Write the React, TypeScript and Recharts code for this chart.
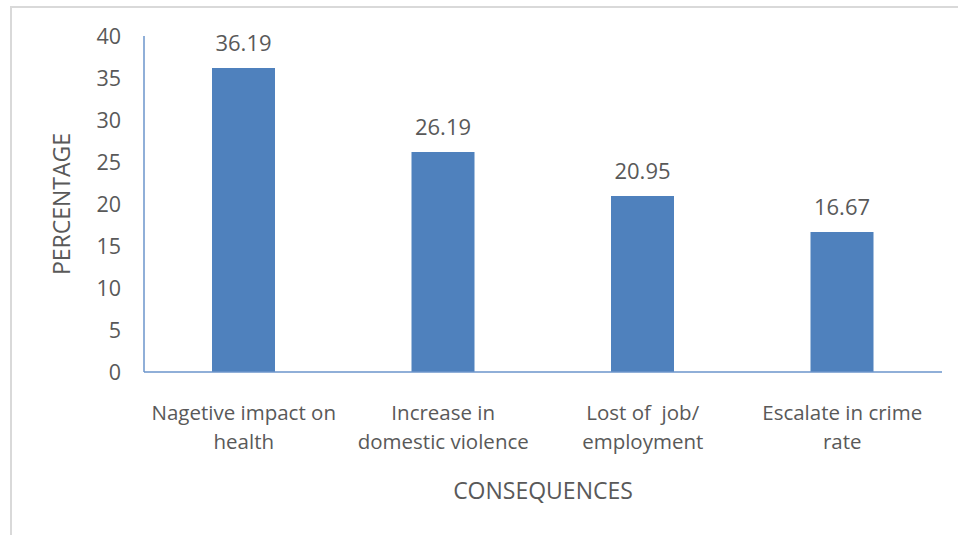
import { BarChart, Bar, XAxis, YAxis, LabelList, Label } from "recharts";

const categories = [
  "Nagetive impact on\nhealth",
  "Increase in\ndomestic violence",
  "Lost of  job/\nemployment",
  "Escalate in crime\nrate",
];
const percentages = [36.19, 26.19, 20.95, 16.67];
const yTicks = [0, 5, 10, 15, 20, 25, 30, 35, 40];

const data = categories.map((name, i) => ({ name, value: percentages[i] }));

const FONT = "'Open Sans', sans-serif";
const TEXT = "#595959";
const BAR = "#4f81bd";
const AXIS = "#6b94cb";

function CategoryTick({ x, y, payload }: any) {
  const lines = String(payload.value).split("\n");
  return (
    <text
      x={x}
      y={y + 40}
      textAnchor="middle"
      fill={TEXT}
      fontSize={20.5}
      fontFamily={FONT}
      style={{ whiteSpace: "pre" }}
    >
      {lines.map((line, i) => (
        <tspan key={i} x={x} dy={i === 0 ? 0 : 29}>
          {line}
        </tspan>
      ))}
    </text>
  );
}

export default function App() {
  return (
    <div
      style={{
        position: "fixed",
        left: 0,
        top: 0,
        width: 958,
        height: 535,
        overflow: "hidden",
        background: "#fff",
      }}
    >
      {/* light frame around the chart area */}
      <div
        style={{
          position: "absolute",
          left: 10,
          top: 6,
          width: 980,
          height: 560,
          borderTop: "2px solid #d9d9d9",
          borderLeft: "2px solid #d9d9d9",
        }}
      />
      <div style={{ position: "absolute", left: 0, top: 0 }}>
        <BarChart
          width={958}
          height={535}
          data={data}
          margin={{ top: 36, right: 16, left: 104, bottom: 103 }}
          barCategoryGap={0}
        >
          <XAxis
            dataKey="name"
            tick={<CategoryTick />}
            tickLine={false}
            axisLine={{ stroke: AXIS, strokeWidth: 1.5 }}
            height={60}
            interval={0}
          >
            <Label
              value="CONSEQUENCES"
              position="bottom"
              offset={51}
              fill={TEXT}
              fontSize={23}
              fontFamily={FONT}
            />
          </XAxis>
          <YAxis
            domain={[0, 40]}
            ticks={yTicks}
            tickLine={false}
            axisLine={{ stroke: AXIS, strokeWidth: 1.5 }}
            tick={{ fill: TEXT, fontSize: 21.5, fontFamily: FONT }}
            tickMargin={17}
            width={40}
          >
            <Label
              value="PERCENTAGE"
              angle={-90}
              position="left"
              offset={42}
              fill={TEXT}
              fontSize={23}
              fontFamily={FONT}
              style={{ textAnchor: "middle" }}
            />
          </YAxis>
          <Bar dataKey="value" fill={BAR} barSize={63} isAnimationActive={false}>
            <LabelList
              dataKey="value"
              position="top"
              offset={17}
              fill={TEXT}
              fontSize={22}
              fontFamily={FONT}
              formatter={(v: any) => Number(v).toFixed(2)}
            />
          </Bar>
        </BarChart>
      </div>
    </div>
  );
}
